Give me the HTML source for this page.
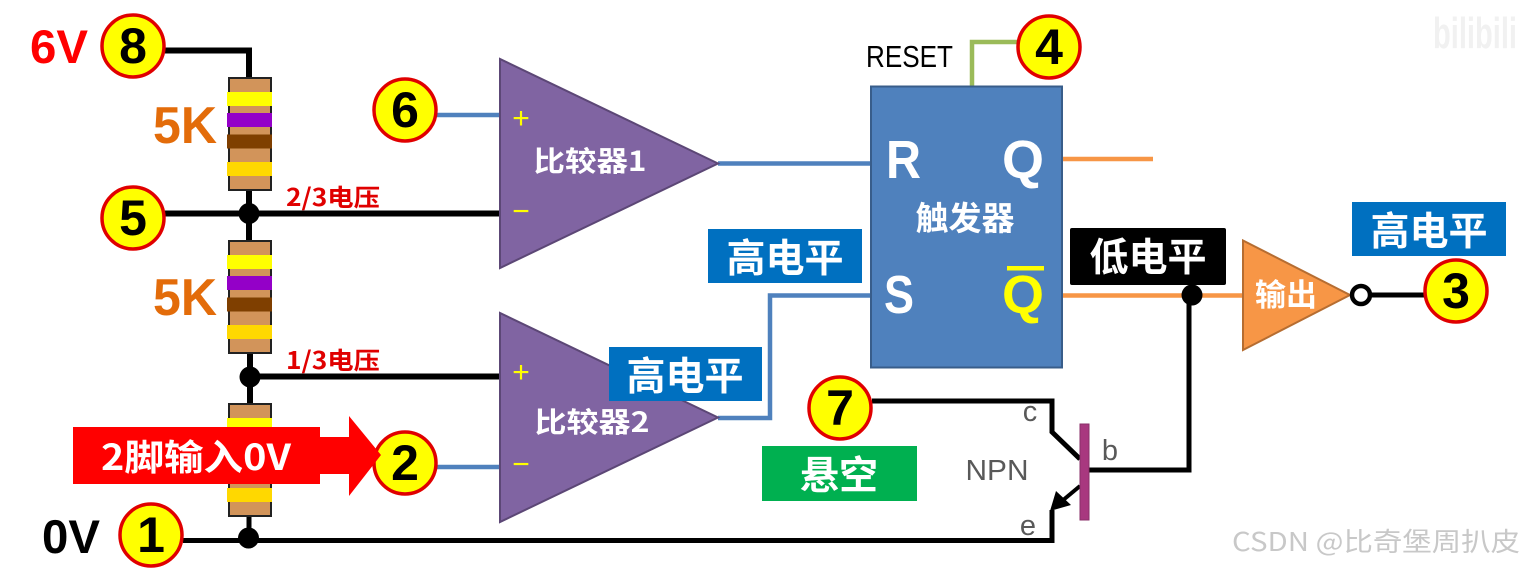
<!DOCTYPE html>
<html><head><meta charset="utf-8"><style>
html,body{margin:0;padding:0;background:#fff;width:1525px;height:568px;overflow:hidden}
svg{display:block;filter:blur(.35px)}
text{font-family:"Liberation Sans","Noto Sans CJK SC",sans-serif}
.cjk{font-family:"Noto Sans CJK SC","Liberation Sans",sans-serif;font-weight:700}
.n{font-weight:700;font-size:50px;text-anchor:middle;fill:#000}
.c{fill:#ff0;stroke:#e00000;stroke-width:3.5}
.w{fill:none;stroke:#000;stroke-width:6}
.b{fill:none;stroke:#4f81bd;stroke-width:4.5}
.o{fill:none;stroke:#f79646;stroke-width:4.5}
.t{fill:#fff;font-size:39px;text-anchor:middle}
.g{fill:#595959;font-size:29px;text-anchor:middle}
</style></head><body>
<svg width="1525" height="568" viewBox="0 0 1525 568" xmlns="http://www.w3.org/2000/svg">
<!-- watermarks -->
<text x="1433" y="48" font-size="44" font-weight="700" fill="#f1f1f1" textLength="84" lengthAdjust="spacingAndGlyphs">bilibili</text>
<text x="1232" y="551" font-size="26" fill="#c8c8c8" class="cjk" style="font-weight:400" textLength="288" lengthAdjust="spacingAndGlyphs">CSDN @比奇堡周扒皮</text>

<!-- black wires -->
<path class="w" d="M165 50.5H249V77"/>
<path class="w" d="M165 213.5H499M249 190V240"/>
<path class="w" d="M250 352V403M250 376.5H499"/>
<path class="w" d="M249 516V539M183 540.5H1052V510" style="stroke-width:5"/>
<path class="w" d="M872 401H1052V432L1080 459" style="stroke-width:5"/>
<path class="w" d="M1088 470H1189V295" style="stroke-width:5"/>
<path d="M1080 486L1062 501" fill="none" stroke="#000" stroke-width="4"/>
<path d="M1050 511L1056 491L1071 505Z" fill="#000"/>
<path class="w" d="M1372 295H1425" style="stroke-width:5"/>
<path d="M972 86V42H1017" fill="none" stroke="#9bbb59" stroke-width="4.5"/>

<!-- blue wires -->
<path class="b" d="M437 115H500M437 467H500M718 163.500H871M718 418H770V295.500H871"/>

<!-- orange wires -->
<path class="o" d="M1062 159H1153M1062 295.500H1243"/>

<!-- resistors -->
<g>
<rect x="229" y="78" width="42" height="112" fill="#d2945a" stroke="#222" stroke-width="2"/>
<rect x="227" y="92" width="45" height="14" fill="#ff0"/>
<rect x="227" y="113" width="45" height="14" fill="#9400c8"/>
<rect x="227" y="134.500" width="45" height="14" fill="#7f3f00"/>
<rect x="227" y="162" width="45" height="14" fill="#ffd800"/>
</g>
<g transform="translate(0,163)">
<rect x="229" y="78" width="42" height="112" fill="#d2945a" stroke="#222" stroke-width="2"/>
<rect x="227" y="92" width="45" height="14" fill="#ff0"/>
<rect x="227" y="113" width="45" height="14" fill="#9400c8"/>
<rect x="227" y="134.500" width="45" height="14" fill="#7f3f00"/>
<rect x="227" y="162" width="45" height="14" fill="#ffd800"/>
</g>
<g transform="translate(0,326)">
<rect x="229" y="78" width="42" height="112" fill="#d2945a" stroke="#222" stroke-width="2"/>
<rect x="227" y="92" width="45" height="14" fill="#ff0"/>
<rect x="227" y="113" width="45" height="14" fill="#9400c8"/>
<rect x="227" y="134.500" width="45" height="14" fill="#7f3f00"/>
<rect x="227" y="162" width="45" height="14" fill="#ffd800"/>
</g>

<!-- junction dots -->
<circle cx="249" cy="213.500" r="10.500"/>
<circle cx="250" cy="377" r="10.500"/>
<circle cx="248.500" cy="538" r="10.500"/>
<circle cx="1192" cy="295" r="10.500"/>

<!-- comparators -->
<path d="M500 59V268L718 163.500Z" fill="#8064a2" stroke="#5c4776" stroke-width="2"/>
<path d="M500 313V522L718 417.500Z" fill="#8064a2" stroke="#5c4776" stroke-width="2"/>
<text x="521" y="128" font-size="30" fill="#ff0" text-anchor="middle">+</text>
<text x="521" y="221" font-size="30" fill="#ff0" text-anchor="middle">−</text>
<text x="521" y="382" font-size="30" fill="#ff0" text-anchor="middle">+</text>
<text x="521" y="474" font-size="30" fill="#ff0" text-anchor="middle">−</text>
<text x="590" y="171" font-size="28" fill="#fff" text-anchor="middle" class="cjk" textLength="113" lengthAdjust="spacingAndGlyphs">比较器1</text>
<text x="592" y="432" font-size="28" fill="#fff" text-anchor="middle" class="cjk" textLength="115" lengthAdjust="spacingAndGlyphs">比较器2</text>

<!-- flip flop -->
<rect x="871" y="86.500" width="191" height="281" fill="#4f81bd" stroke="#385d8a" stroke-width="2"/>
<text x="886" y="178" font-size="54" font-weight="700" fill="#fff" textLength="35" lengthAdjust="spacingAndGlyphs">R</text>
<text x="1023" y="178" font-size="54" font-weight="700" fill="#fff" text-anchor="middle">Q</text>
<text x="884" y="313" font-size="54" font-weight="700" fill="#fff" textLength="30" lengthAdjust="spacingAndGlyphs">S</text>
<text x="1023" y="313" font-size="54" font-weight="700" fill="#ff0" text-anchor="middle">Q</text>
<rect x="1007" y="266" width="37" height="4.500" fill="#ff0"/>
<text x="965" y="230" font-size="33" fill="#fff" text-anchor="middle" class="cjk">触发器</text>

<!-- output buffer -->
<path d="M1243 240.500V350L1350 295Z" fill="#f79646" stroke="#b66d31" stroke-width="2"/>
<text x="1286" y="306" font-size="31" fill="#fff" text-anchor="middle" class="cjk">输出</text>
<circle cx="1361" cy="295" r="9" fill="#fff" stroke="#000" stroke-width="4.500"/>

<!-- transistor -->
<rect x="1080" y="424" width="9" height="96" fill="#a8387f" stroke="#8a2f68" stroke-width="1"/>
<text x="997" y="480" class="g" textLength="63" lengthAdjust="spacingAndGlyphs">NPN</text>
<text x="1030" y="421" class="g">c</text>
<text x="1110" y="460" class="g">b</text>
<text x="1028" y="535" class="g">e</text>

<!-- labels -->
<rect x="708" y="229" width="154" height="54" fill="#0070c0"/>
<text x="785" y="272" class="t cjk">高电平</text>
<rect x="609" y="347" width="153" height="54" fill="#0070c0"/>
<text x="685" y="390" class="t cjk">高电平</text>
<rect x="1352" y="202" width="154" height="54" fill="#0070c0"/>
<text x="1429" y="245" class="t cjk">高电平</text>
<rect x="1070" y="228" width="156" height="57" rx="2" fill="#000"/>
<text x="1148" y="271" class="t cjk">低电平</text>
<rect x="762" y="446" width="155" height="55" fill="#00b050"/>
<text x="839" y="489" class="t cjk">悬空</text>

<text x="866" y="67" font-size="31" fill="#000" textLength="87" lengthAdjust="spacingAndGlyphs">RESET</text>
<text x="59" y="63" font-size="47" font-weight="700" fill="#f00" text-anchor="middle" textLength="58" lengthAdjust="spacingAndGlyphs">6V</text>
<text x="71" y="553" font-size="47" font-weight="700" fill="#000" text-anchor="middle" textLength="58" lengthAdjust="spacingAndGlyphs">0V</text>
<text x="185" y="143" font-size="52" font-weight="700" fill="#e36c0a" text-anchor="middle" textLength="64" lengthAdjust="spacingAndGlyphs">5K</text>
<text x="185" y="315" font-size="52" font-weight="700" fill="#e36c0a" text-anchor="middle" textLength="64" lengthAdjust="spacingAndGlyphs">5K</text>
<text x="286" y="206" font-size="24" fill="#e00000" class="cjk" textLength="94" lengthAdjust="spacingAndGlyphs">2/3电压</text>
<text x="286" y="369" font-size="24" fill="#e00000" class="cjk" textLength="94" lengthAdjust="spacingAndGlyphs">1/3电压</text>

<!-- numbered circles -->
<circle class="c" cx="133" cy="46" r="31"/><text x="133" y="63" class="n">8</text>
<circle class="c" cx="133" cy="218" r="31"/><text x="133" y="235" class="n">5</text>
<circle class="c" cx="405" cy="110" r="31"/><text x="405" y="127" class="n">6</text>
<circle class="c" cx="405" cy="463" r="31"/><text x="405" y="480" class="n">2</text>
<circle class="c" cx="151" cy="535" r="31"/><text x="151" y="552" class="n">1</text>
<circle class="c" cx="840" cy="408" r="31"/><text x="840" y="425" class="n">7</text>
<circle class="c" cx="1049" cy="47" r="31"/><text x="1049" y="64" class="n">4</text>
<circle class="c" cx="1456" cy="291" r="31"/><text x="1456" y="308" class="n">3</text>

<!-- red arrow -->
<path d="M73 427H320V437H349V416L381 455L349 496V474H320V484H73Z" fill="#f00"/>
<text x="196" y="470" font-size="36" fill="#fff" text-anchor="middle" class="cjk" textLength="190" lengthAdjust="spacingAndGlyphs">2脚输入0V</text>
</svg>
</body></html>
